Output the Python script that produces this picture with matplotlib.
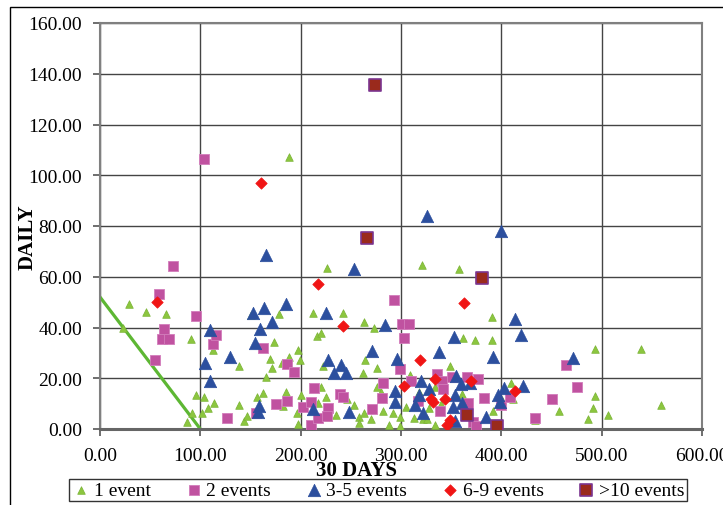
import matplotlib
matplotlib.use('Agg')
import matplotlib.pyplot as plt
from matplotlib.patches import Rectangle

plt.rcParams['font.family'] = ['Liberation Serif', 'DejaVu Serif']

# 1 event
one_x = [29, 22.5, 46, 66, 62, 91, 87, 92, 95.6, 101.5, 104, 108, 114, 112.6, 139, 139, 144,
         146.6, 156, 150, 162, 165, 169.5, 173, 171, 178, 181, 182, 185, 188, 188, 197.5, 199,
         196, 197.5, 200.8, 212.7, 216, 220, 220, 222, 217.7, 226.5, 225.6, 227.4, 242.6, 245.8,
         235.7, 253, 258, 258, 262, 263, 263, 264.2, 270, 273, 276, 276, 280, 281.6, 288.5,
         291.7, 298.6, 299.5, 304.6, 309, 313, 318, 320.7, 321.6, 326, 327.5, 333.5, 333.5,
         340, 349, 358.3, 362, 361, 373.5, 391, 391, 392, 401, 410, 412, 433.7, 457.6, 486.5,
         491.6, 493, 493, 506.7, 539.4, 559]
one_y = [49.2, 39.7, 46, 45.4, 37, 35.6, 2.9, 6.2, 13.4, 6.4, 12.5, 8.2, 10.3, 31.3, 9.3, 25,
         3.3, 5, 12.5, 44.8, 14, 20.5, 27.7, 34.4, 24, 45.4, 26, 9.2, 14.6, 28.3, 107.3, 31.3,
         27, 6.3, 2.1, 13.4, 45.9, 36.7, 37.9, 16.7, 24.7, 10.3, 63.5, 12.5, 4.7, 45.8, 11.7,
         5.4, 9.3, 4.9, 2.2, 22.2, 6.4, 42, 27, 3.8, 39.7, 24.2, 16.4, 14.7, 7.2, 1.6, 6.4, 4.9,
         1.2, 8.8, 21.2, 4.3, 14.5, 64.8, 3.8, 3.8, 8.3, 1.6, 16.7, 9.9, 24.8, 63.2, 35.9, 13.7,
         35.1, 44.3, 35.1, 7.2, 11.4, 18.3, 12, 3.5, 7.1, 4.1, 8.2, 13.1, 31.6, 5.7, 31.6, 9.5]

# 2 events
two_x = [103.8, 73, 59, 64, 62, 68.5, 54.7, 95.6, 113, 116, 127, 155, 162.6, 175, 186, 186,
         193.4, 202, 210.4, 210, 213.6, 217.3, 227.4, 226.5, 239, 242, 271, 280.7, 281.6, 292.6,
         299, 303, 300.8, 307.8, 309.6, 316.5, 336.3, 341.3, 342.3, 339, 350.5, 365.7, 367,
         371.7, 374.9, 376.7, 382.3, 400, 409, 433.7, 450.7, 464.5, 475]
two_y = [106.4, 64.4, 53.1, 39.4, 35.4, 35.4, 27.2, 44.6, 33.4, 36.9, 4.2, 6.4, 32.1, 9.9,
         25.8, 11.2, 22.5, 8.5, 10.6, 1.4, 16, 4.3, 8.2, 5.3, 13.8, 12.8, 8, 12.2, 18.3, 50.9,
         23.5, 35.9, 41.3, 41.3, 18.8, 10.9, 21.7, 18.8, 15.6, 7.2, 20.4, 20.4, 10.1, 2.8, 1.3,
         19.7, 12.2, 9.5, 12.8, 4.2, 11.7, 25.1, 16.6]

# 3-5 events
three_x = [104.7, 109.8, 109.8, 130, 152.5, 154.4, 159, 163.5, 165.4, 171.4, 185, 158.5, 157.2,
           211.8, 225.6, 227, 233.4, 240.3, 244.9, 248.5, 253, 271.5, 284, 293.6, 293.6, 296.3,
           313.8, 319.7, 318.3, 321.6, 326.2, 327.5, 338.1, 351.9, 352.8, 354.2, 355, 354,
           359.7, 360.6, 368.9, 384.9, 391.9, 396.4, 398.7, 402.3, 400, 414, 419.9, 421.7, 471.4]
three_y = [25.9, 39, 18.9, 28.5, 45.9, 33.8, 39.4, 47.5, 68.4, 42.2, 49.2, 9.2, 6.6, 7.8, 45.9,
           27, 22, 25.4, 22, 6.7, 63, 30.8, 41, 15.1, 10.6, 27.5, 9.5, 19.1, 13.4, 6.4, 84, 15.6,
           30.4, 8.5, 36.2, 13.3, 20.9, 3, 17.7, 10.1, 18, 4.9, 28.5, 13.3, 10.6, 16.2, 78.1,
           43.3, 37.1, 17.1, 28]

# 6-9 events
six_x = [57, 160.3, 217.3, 242, 302.8, 319.3, 333.5, 330.3, 332.1, 344.1, 345.9, 349, 362.9,
         369.8, 413.9]
six_y = [50.2, 97, 57.2, 40.5, 16.8, 27, 19.6, 12, 10.6, 12, 1.4, 3.5, 49.7, 18.9, 15.1]

# >10 events
ten_x = [274.3, 266, 380.8, 365.7, 396]
ten_y = [135.4, 75.1, 59.4, 5.7, 1.3]

# green boundary line
line_x = [0, 100]
line_y = [52, 0]

fig = plt.figure(figsize=(7.23, 5.06), dpi=100)
ax = fig.add_axes([100/723, 1 - 430/506, 602/723, 406/506])

ax.plot(line_x, line_y, color='#5db733', lw=2.3, zorder=2)
ax.scatter(one_x, one_y, marker='^', s=30, color='#8cc63f', edgecolors='#7ab335',
           linewidths=0.5, label='1 event', zorder=3)
ax.scatter(two_x, two_y, marker='s', s=52, color='#c052a0', edgecolors='#d27cbb',
           linewidths=0.6, label='2 events', zorder=3)
ax.scatter(three_x, three_y, marker='^', s=80, color='#2c4f9e', edgecolors='#2c4f9e',
           linewidths=0.5, label='3-5 events', zorder=4)
ax.scatter(six_x, six_y, marker='D', s=34, color='#f01515', edgecolors='#f01515',
           linewidths=0.5, label='6-9 events', zorder=4)
ax.scatter(ten_x, ten_y, marker='s', s=85, color='#9a2a1c', edgecolors='#7b3590',
           linewidths=1.2, label='>10 events', zorder=5)

ax.set_xlim(0, 600)
ax.set_ylim(0, 160)
ax.set_xticks(range(0, 601, 100))
ax.set_yticks(range(0, 161, 20))
ax.set_xticklabels([f'{v:.2f}' for v in range(0, 601, 100)])
ax.set_yticklabels([f'{v:.2f}' for v in range(0, 161, 20)])
ax.tick_params(labelsize=14, length=5, width=1.2, color='#555555')
ax.tick_params(axis='x', pad=8)
ax.tick_params(axis='y', pad=8)
ax.grid(True, color='#444444', lw=1.0)
ax.set_axisbelow(True)
for side in ['left', 'right', 'top']:
    ax.spines[side].set_color('#808080')
    ax.spines[side].set_linewidth(1.5)
ax.spines['bottom'].set_color('#666666')
ax.spines['bottom'].set_linewidth(2.2)

fig.text(357/723, 1 - 471/506, '30 DAYS', fontsize=15, fontweight='bold',
         ha='center', va='center')
fig.text(28/723, 1 - 237/506, 'DAILY', fontsize=15, fontweight='bold',
         ha='center', va='center', rotation=90)

leg = fig.legend(loc='center', bbox_to_anchor=(378/723, 1 - 491/506), ncol=5,
                 fontsize=14, frameon=True, fancybox=False, edgecolor='black',
                 handletextpad=0.15, columnspacing=1.7, borderpad=0.12,
                 handlelength=1.0, scatterpoints=1)
leg.get_frame().set_linewidth(1.0)

# outer chart frame
fig.patches.append(Rectangle((10/723, -0.01), 1.0, 1 - 8/506 + 0.01, transform=fig.transFigure,
                             fill=False, edgecolor='black', lw=1.0))

fig.savefig('out.png', dpi=100)
